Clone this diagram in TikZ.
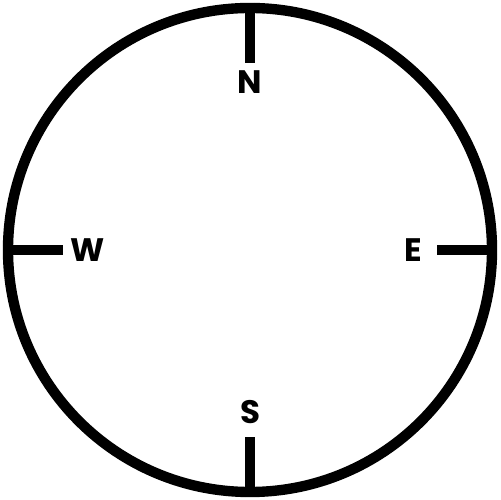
\documentclass[tikz,border=0pt]{standalone}
\usepackage{fontspec}
\setsansfont{Poppins}
\usetikzlibrary{positioning}

\begin{document}
\begin{tikzpicture}[x=0.02cm,y=0.02cm,line width=5.9pt,font=\sffamily\bfseries\fontsize{18.5}{18.5}\selectfont]
\useasboundingbox (0,0) rectangle (500,500);
\node[circle,draw,minimum size=484*0.02cm,inner sep=0pt,line width=5.9pt] (dial) at (250,250) {};
\coordinate (tn) at (250,437);
\coordinate (ts) at (250,63);
\coordinate (tw) at (63,250);
\coordinate (te) at (437,250);
\draw (dial.north) -- (tn);
\draw (dial.south) -- (ts);
\draw (dial.west) -- (tw);
\draw (dial.east) -- (te);
\node (n) at (250,418) {N};
\node (s) at (250,88) {S};
\node (w) at (88,250) {W};
\node (e) at (413,250) {E};
\end{tikzpicture}
\end{document}
